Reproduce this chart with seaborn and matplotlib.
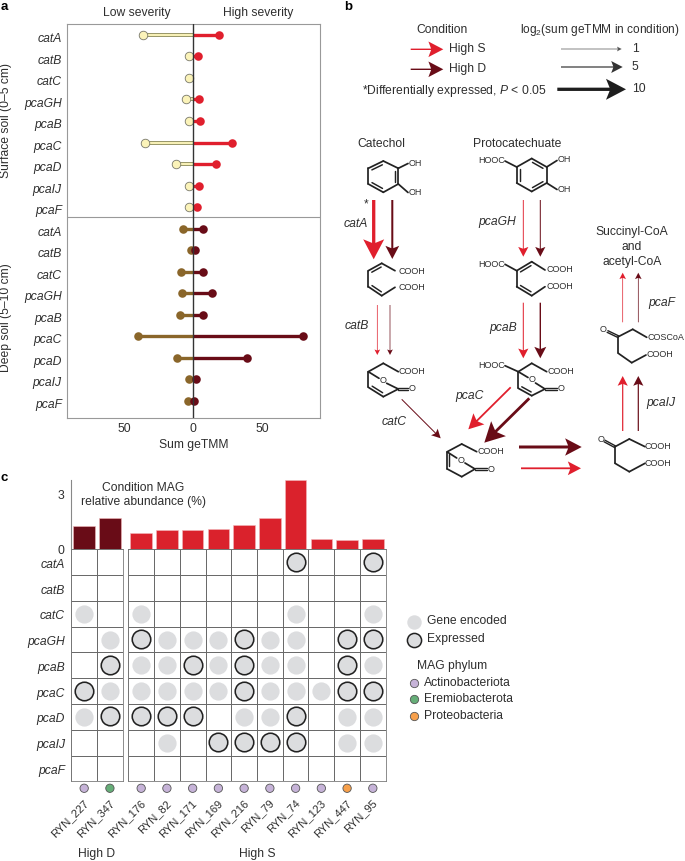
import numpy as np
import pandas as pd
import matplotlib
matplotlib.use('Agg')
import matplotlib.pyplot as plt
from matplotlib.colors import ListedColormap
from matplotlib.patches import Polygon
import seaborn as sns

W, H = 685, 861

genes = ['catA', 'catB', 'catC', 'pcaGH', 'pcaB', 'pcaC', 'pcaD', 'pcaIJ', 'pcaF']

# panel a, sum geTMM
surface_low = [36, 2.7, 3, 5.3, 3.1, 35, 12.3, 3, 3.1]
surface_high = [18.6, 3.4, 0, 4.6, 5, 28, 16.7, 4.6, 2.6]
deep_low = [7, 1.7, 8.5, 8.2, 9.7, 40, 11.6, 3.1, 3.4]
deep_high = [7, 1.7, 7, 14, 7.5, 80, 39, 1.9, 1]

# panel c
mags_d = ['RYN_227', 'RYN_347']
mags_s = ['RYN_176', 'RYN_82', 'RYN_171', 'RYN_169', 'RYN_216', 'RYN_79',
          'RYN_74', 'RYN_123', 'RYN_447', 'RYN_95']
abund_d = [1.28, 1.74]
abund_s = [0.91, 1.04, 1.06, 1.12, 1.35, 1.74, 3.79, 0.55, 0.53, 0.58]
phyla_d = ['Actinobacteriota', 'Eremiobacterota']
phyla_s = ['Actinobacteriota'] * 8 + ['Proteobacteria', 'Actinobacteriota']
# 0 absent, 1 gene encoded, 2 expressed
status_d = [[0, 0], [0, 0], [1, 0], [0, 1], [0, 2], [2, 1], [1, 2], [0, 0], [0, 0]]
status_s = [[0, 0, 0, 0, 0, 0, 2, 0, 0, 2],
            [0, 0, 0, 0, 0, 0, 0, 0, 0, 0],
            [1, 0, 0, 0, 0, 0, 1, 0, 0, 1],
            [2, 1, 1, 1, 2, 1, 1, 0, 2, 2],
            [1, 1, 2, 1, 2, 1, 1, 0, 2, 1],
            [1, 1, 1, 1, 2, 1, 1, 1, 2, 2],
            [2, 2, 2, 0, 1, 1, 2, 0, 1, 1],
            [0, 1, 0, 2, 2, 2, 2, 0, 1, 1],
            [0, 0, 0, 0, 0, 0, 0, 0, 0, 0]]

# panel b, log2(sum geTMM) for each step
log2_high_s = {'catA': 10, 'catB': 1.5, 'pcaGH': 4, 'pcaB': 4, 'pcaC': 7, 'pcaD': 6, 'pcaIJ': 4, 'pcaF': 2}
log2_high_d = {'catA': 6, 'catB': 1.5, 'catC': 3.5, 'pcaGH': 4, 'pcaB': 5, 'pcaC': 10, 'pcaD': 8, 'pcaIJ': 4, 'pcaF': 2}
legend_sizes = [1, 5, 10]

RED = '#E01F2D'
DARK = '#690C17'
INK = '#2E2E2E'
phylum_colors = {'Actinobacteriota': '#C6B3D8', 'Eremiobacterota': '#66AE78', 'Proteobacteria': '#F7A04B'}

sns.set_theme(style='white')
plt.rcParams['font.family'] = ['Liberation Sans', 'DejaVu Sans']
plt.rcParams['font.size'] = 8.7
plt.rcParams['mathtext.fontset'] = 'custom'
plt.rcParams['mathtext.rm'] = 'Liberation Sans'
plt.rcParams['mathtext.it'] = 'Liberation Sans:italic'
plt.rcParams['mathtext.default'] = 'regular'
plt.rcParams['text.color'] = INK


def px_axes(fig, left, top, right, bottom):
    return fig.add_axes([left / W, 1 - bottom / H, (right - left) / W, (bottom - top) / H])


fig = plt.figure(figsize=(W / 100, H / 100), dpi=100)

# ---- panel a
ax_a = px_axes(fig, 66.7, 24, 320, 418)
rows = np.arange(18)
groups = [(surface_low, -1, '#FBF3B9', rows[:9]), (surface_high, 1, RED, rows[:9]),
          (deep_low, -1, '#8A662A', rows[9:]), (deep_high, 1, DARK, rows[9:])]
for values, sign, color, ys in groups:
    df = pd.DataFrame({'x': sign * np.array(values), 'y': ys})
    df = df[df['x'] != 0]
    if color == '#FBF3B9':
        ax_a.hlines(df['y'], 0, df['x'], color='#8C8A55', lw=2.7, zorder=2)
        ax_a.hlines(df['y'], 0, df['x'], color=color, lw=1.4, zorder=2)
        edge, ew = '#77776A', 0.6
    else:
        ax_a.hlines(df['y'], 0, df['x'], color=color, lw=2.4, zorder=2)
        edge, ew = color, 0
    sns.scatterplot(data=df, x='x', y='y', color=color, edgecolor=edge, linewidth=ew,
                    s=38, ax=ax_a, zorder=3, legend=False, clip_on=False)
ax_a.axvline(0, color='#333333', lw=1.0, zorder=4)
ax_a.axhline(8.47, color='#999999', lw=0.8)
ax_a.set_xlim(-91.5, 92)
ax_a.set_ylim(17.81, -0.51)
ax_a.set_xticks([-50, 0, 50])
ax_a.set_xticklabels(['50', '0', '50'], fontsize=8.7, color=INK)
ax_a.set_yticks(rows + 0.13)
ax_a.set_yticklabels(genes + genes, fontsize=8.7, style='italic', color=INK)
ax_a.tick_params(axis='both', length=0, pad=3.5)
ax_a.set_xlabel('Sum geTMM', fontsize=8.7, color=INK, labelpad=3)
ax_a.set_ylabel('')
for s in ax_a.spines.values():
    s.set_color('#999999')
    s.set_linewidth(0.8)

# ---- panel c
col_w = 25.74
grid_top, grid_bottom = 549.3, 781.3
panels = [(71.3, mags_d, abund_d, phyla_d, status_d, DARK),
          (128.3, mags_s, abund_s, phyla_s, status_s, '#DA222C')]
for left, names, abund, phyla, status, bar_color in panels:
    right = left + col_w * len(names)
    ax_bar = px_axes(fig, left, 480, right, grid_top)
    sns.barplot(x=names, y=abund, color=bar_color, width=0.83, saturation=1,
                edgecolor='#F3B9BC', linewidth=0.4, ax=ax_bar)
    ax_bar.set_xlim(-0.5, len(names) - 0.5)
    ax_bar.set_ylim(0, 3.8)
    ax_bar.set_xticks([])
    ax_bar.set_xlabel('')
    sns.despine(ax=ax_bar, bottom=True, left=left > 100, right=True, top=True)
    if left < 100:
        ax_bar.spines['left'].set_color('#888888')
        ax_bar.spines['left'].set_linewidth(0.8)
        ax_bar.set_yticks([0, 3])
        ax_bar.set_yticklabels(['0', '3'], fontsize=8.7, color=INK)
        ax_bar.tick_params(axis='y', length=0, pad=5)
    else:
        ax_bar.set_yticks([])
    ax_bar.set_ylabel('')

    ax_grid = px_axes(fig, left, grid_top, right, grid_bottom)
    status = np.array(status)
    sns.heatmap(np.zeros(status.shape), cmap=ListedColormap(['white']), cbar=False,
                linewidths=0.55, linecolor='#6A6A6A', ax=ax_grid)
    ax_grid.set_axis_on()
    for s in ax_grid.spines.values():
        s.set_visible(True)
        s.set_color('#7A7A7A')
        s.set_linewidth(0.6)
    rr, cc = np.nonzero(status == 1)
    sns.scatterplot(x=cc + 0.5, y=rr + 0.5, color='#DCDDDF', s=172, linewidth=0,
                    ax=ax_grid, legend=False, zorder=3)
    rr, cc = np.nonzero(status == 2)
    sns.scatterplot(x=cc + 0.5, y=rr + 0.48, color='#DCDDDF', edgecolor='#222222', s=178,
                    linewidth=1.15, ax=ax_grid, legend=False, zorder=3)
    xs = np.arange(len(names)) + 0.5
    sns.scatterplot(x=xs, y=[9.27] * len(names), hue=phyla, palette=phylum_colors,
                    edgecolor='#555555', linewidth=0.6, s=36, clip_on=False,
                    ax=ax_grid, legend=False, zorder=3)
    ax_grid.set_xlim(0, len(names))
    ax_grid.set_ylim(9, 0)
    ax_grid.set_xticks(xs - 0.05)
    ax_grid.set_xticklabels(names, rotation=45, ha='right', va='top', rotation_mode='anchor',
                            fontsize=8.0, color=INK)
    ax_grid.tick_params(axis='x', length=0, pad=12)
    if left < 100:
        ax_grid.set_yticks(np.arange(9) + 0.6)
        ax_grid.set_yticklabels(genes, rotation=0, fontsize=8.7, style='italic', color=INK)
        ax_grid.tick_params(axis='y', length=0, pad=4.5)
    else:
        ax_grid.set_yticks([])

# ---- overlay in pixel coordinates: annotations and the pathway in panel b
ov = fig.add_axes([0, 0, 1, 1], zorder=10)
ov.set_xlim(0, W)
ov.set_ylim(H, 0)
ov.axis('off')
ov.patch.set_alpha(0)


def label(x, y, s, ha='left', size=8.7, **kw):
    ov.text(x, y, s, ha=ha, va='center', fontsize=size, color=INK, **kw)


def arrow(x0, y0, x1, y1, color, v, shaft=None):
    # shaft and head grow with the log2 value
    sw = 0.1 + 0.32 * v if shaft is None else shaft
    hw, hl = 3 + 1.8 * v, 3 + 1.7 * v
    d = np.array([x1 - x0, y1 - y0], float)
    d /= np.hypot(*d)
    n = np.array([-d[1], d[0]])
    p0, tip = np.array([x0, y0]), np.array([x1, y1])
    base = tip - d * hl
    neck = base + d * hl * 0.18
    pts = [p0 + n * sw / 2, neck + n * sw / 2, base + n * hw / 2, tip,
           base - n * hw / 2, neck - n * sw / 2, p0 - n * sw / 2]
    ov.add_patch(Polygon(pts, closed=True, facecolor=color, edgecolor='none', zorder=5))


def bonds(points, double=(), carbonyl=(), lw=1.25):
    for a, b in points:
        ov.plot([a[0], b[0]], [a[1], b[1]], color='#222222', lw=lw, solid_capstyle='round', zorder=4)
    for a, b, off in double:
        a, b = np.array(a, float), np.array(b, float)
        d = b - a
        n = np.array([-d[1], d[0]]) / np.hypot(*d) * off
        a2, b2 = a + d * 0.15 + n, b - d * 0.15 + n
        ov.plot([a2[0], b2[0]], [a2[1], b2[1]], color='#222222', lw=lw * 0.85, zorder=4)
    # C=O drawn as two close lines
    for a, b in carbonyl:
        a, b = np.array(a, float), np.array(b, float)
        d = b - a
        n = np.array([-d[1], d[0]]) / np.hypot(*d) * 0.9
        for sign in (-1, 1):
            ov.plot([a[0] + sign * n[0], b[0] + sign * n[0]], [a[1] + sign * n[1], b[1] + sign * n[1]],
                    color='#222222', lw=lw * 0.8, zorder=4)


def path(pts):
    return list(zip(pts[:-1], pts[1:]))


for x, y, s in [(0.5, 7, 'a'), (344, 7, 'b'), (0.5, 478, 'c')]:
    ov.text(x, y, s, fontsize=9.5, fontweight='bold', color='black', va='center')

label(136.7, 13, 'Low severity', ha='center')
label(258, 13, 'High severity', ha='center')
label(6.5, 121, 'Surface soil (0–5 cm)', ha='center', rotation=90)
label(6.5, 318, 'Deep soil (5–10 cm)', ha='center', rotation=90)

label(143.3, 487.7, 'Condition MAG', ha='center')
label(143.3, 502.3, 'relative abundance (%)', ha='center')
label(97, 854, 'High D', ha='center')
label(257, 854, 'High S', ha='center')

# legend of panel c
ov.scatter([413.7], [621.7], s=108, color='#DCDDDF', linewidth=0, zorder=5)
ov.scatter([413.7], [640.3], s=104, color='#DCDDDF', edgecolor='#222222', linewidth=1.1, zorder=5)
label(427.3, 621, 'Gene encoded')
label(427.3, 639.3, 'Expressed')
label(417.3, 666, 'MAG phylum')
for yy, (name, col) in zip([682.7, 699.3, 715.7], phylum_colors.items()):
    ov.scatter([414], [yy], s=36, color=col, edgecolor='#555555', linewidth=0.6, zorder=5)
    label(424, yy, name)

# legend of panel b
label(442, 30, 'Condition', ha='center')
label(520, 30, 'log$_2$(sum geTMM in condition)', size=8.55)
arrow(410.7, 49.3, 443.3, 49.3, RED, 7, shaft=1.4)
arrow(410.7, 69.3, 443.3, 69.3, DARK, 7, shaft=1.4)
label(449.3, 49, 'High S')
label(449.3, 69, 'High D')
label(361.7, 90.7, r'*Differentially expressed, $\mathit{P}$ < 0.05')
size_colors = ['#555555', '#333333', '#1E1E1E']
for v, yy, x0, x1, c in zip(legend_sizes, [49, 67, 89.3], [561, 561, 557.3], [621.7, 622.7, 626], size_colors):
    arrow(x0, yy, x1, yy, c, v, shaft=[0.7, 1.2, 3.3][legend_sizes.index(v)])
    label(631.7, yy, str(v))

# metabolite names
label(381, 144, 'Catechol', ha='center')
label(516.7, 144, 'Protocatechuate', ha='center')
label(631.7, 232.3, 'Succinyl-CoA', ha='center')
label(631.7, 246.7, 'and', ha='center')
label(631.7, 261.7, 'acetyl-CoA', ha='center')

# gene labels on the pathway
for x, y, s in [(355.5, 223.7, 'catA'), (497, 222, 'pcaGH'), (357, 326, 'catB'), (503.5, 327.7, 'pcaB'),
                (394, 421.7, 'catC'), (469.5, 396, 'pcaC'), (661, 402.7, 'pcaIJ'), (661.5, 303, 'pcaF')]:
    label(x, y, s, ha='center', style='italic')
label(366, 204, '*', ha='center', size=8.5)

# pathway arrows
arrow(373.7, 200, 373.7, 259.3, RED, log2_high_s['catA'])
arrow(392.3, 200, 392.3, 259, DARK, log2_high_d['catA'])
arrow(523.3, 200, 523.3, 256.7, RED, log2_high_s['pcaGH'], shaft=0.9)
arrow(540.3, 200, 540.3, 256.7, DARK, log2_high_d['pcaGH'], shaft=1.0)
arrow(377.3, 305, 377.3, 355, RED, log2_high_s['catB'], shaft=0.7)
arrow(390, 305, 390, 355, DARK, log2_high_d['catB'], shaft=0.7)
arrow(523.3, 302.7, 523.3, 358.3, RED, log2_high_s['pcaB'], shaft=1.0)
arrow(540.3, 302.7, 540.3, 358.3, DARK, log2_high_d['pcaB'], shaft=1.4)
arrow(401.7, 399.3, 440.7, 438.3, DARK, log2_high_d['catC'], shaft=1.0)
arrow(510.7, 387.3, 468.3, 429.3, RED, log2_high_s['pcaC'], shaft=1.8)
arrow(529.3, 398.3, 484.3, 442.7, DARK, log2_high_d['pcaC'], shaft=2.8)
arrow(519, 447, 581.7, 447, DARK, log2_high_d['pcaD'], shaft=3.0)
arrow(521, 468.3, 581, 468.3, RED, log2_high_s['pcaD'], shaft=1.8)
arrow(622.7, 431, 622.7, 376, RED, log2_high_s['pcaIJ'], shaft=1.2)
arrow(638.3, 431, 638.3, 376, DARK, log2_high_d['pcaIJ'], shaft=1.2)
arrow(622.7, 322.3, 622.7, 272.7, RED, log2_high_s['pcaF'], shaft=0.7)
arrow(638.3, 322.3, 638.3, 272.7, DARK, log2_high_d['pcaF'], shaft=0.7)

# chemical structures
chem = 6.5
cat = [(368.3, 168.3), (383.3, 161), (398.3, 168.3), (398.3, 184), (383.3, 192.3), (368.3, 184), (368.3, 168.3)]
bonds(path(cat) + [((398.3, 168.3), (408, 163.5)), ((398.3, 184), (408, 192.5))],
      double=[(cat[0], cat[1], 3), (cat[2], cat[3], 3), (cat[4], cat[5], 3)])
label(409, 163.3, 'OH', size=chem)
label(409, 192.7, 'OH', size=chem)

pro = [(516.7, 167), (531.7, 158.5), (546.7, 167), (546.7, 183), (531.7, 191.5), (516.7, 183), (516.7, 167)]
bonds(path(pro) + [((505, 161), (516.7, 167)), ((546.7, 167), (557, 160.5)), ((546.7, 183), (557, 189.5))],
      double=[(pro[1], pro[2], 3), (pro[3], pro[4], 3), (pro[5], pro[6], 3)])
label(505, 160.7, 'HOOC', ha='right', size=chem)
label(558, 160, 'OH', size=chem)
label(558, 189, 'OH', size=chem)

bonds(path([(395, 270.7), (381.7, 263.3), (368.3, 270.7), (368.3, 286.7), (381.7, 295.7), (395, 287.3)]),
      double=[((368.3, 270.7), (381.7, 263.3), 3), ((368.3, 286.7), (381.7, 295.7), -3)])
label(398.3, 271, 'COOH', size=chem)
label(398.3, 287.7, 'COOH', size=chem)

bonds(path([(545, 270), (531.7, 261.7), (516.7, 270.7), (516.7, 286.7), (531.7, 295.7), (545, 286.7)])
      + [((505, 264.3), (516.7, 270.7))],
      double=[((516.7, 270.7), (531.7, 261.7), 3), ((516.7, 286.7), (531.7, 295.7), -3)])
label(505, 264.3, 'HOOC', ha='right', size=chem)
label(546.7, 270, 'COOH', size=chem)
label(546.7, 286.7, 'COOH', size=chem)

bonds(path([(398.3, 371.7), (383.3, 363.3), (368.3, 371.7), (368.3, 387.3), (383.3, 396.7), (398.3, 389)])
      + [((368.3, 371.7), (379, 378.3)), ((386.7, 383.3), (398.3, 389))],
      double=[((368.3, 387.3), (383.3, 396.7), -3)], carbonyl=[((398.3, 389), (408, 389))])
label(398.8, 371.7, 'COOH', size=chem)
label(383.3, 380.7, 'O', ha='center', size=chem)
label(409, 388.7, 'O', size=chem)

bonds(path([(546.7, 371.7), (531.7, 363.3), (518.3, 371.7), (518.3, 388.3), (531.7, 395.7), (545, 389)])
      + [((505, 365.7), (518.3, 371.7)), ((518.3, 371.7), (528, 377.5)), ((535.5, 383), (545, 389))],
      double=[((518.3, 388.3), (531.7, 395.7), -3)], carbonyl=[((545, 389), (557, 389))])
label(505, 365.7, 'HOOC', ha='right', size=chem)
label(548, 371.7, 'COOH', size=chem)
label(531.7, 380, 'O', ha='center', size=chem)
label(558, 388.3, 'O', size=chem)

bonds(path([(476.7, 451.7), (461.7, 444), (447.3, 451.7), (447.3, 469), (461.7, 476.7), (475, 469)])
      + [((447.3, 452), (456.7, 458)), ((465, 463), (475, 469))],
      double=[((447.3, 451.7), (447.3, 469), -1.6)], carbonyl=[((475, 469), (487, 469))])
label(477.3, 451.7, 'COOH', size=chem)
label(460.7, 460.7, 'O', ha='center', size=chem)
label(487.5, 469, 'O', size=chem)

bonds(path([(645, 446.7), (629.3, 439), (615, 446.7), (615, 463.3), (629.3, 471.7), (645, 463.3)]),
      carbonyl=[((604.5, 441), (615, 446.7))])
label(600.7, 439.3, 'O', ha='center', size=chem)
label(645, 446.7, 'COOH', size=chem)
label(645, 463, 'COOH', size=chem)

bonds(path([(646.7, 337.3), (632.7, 329.3), (618.3, 336.7), (618.3, 353.3), (631.7, 362.7), (646, 355)]),
      carbonyl=[((607.5, 331.5), (618.3, 336.7))])
label(603.3, 330, 'O', ha='center', size=chem)
label(647.3, 337.7, 'COSCoA', size=chem)
label(646.7, 354.3, 'COOH', size=chem)

fig.savefig('out.png', dpi=100)
